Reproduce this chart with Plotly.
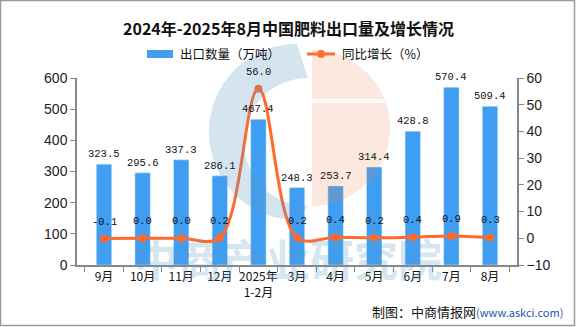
import numpy as np
import plotly.graph_objects as go

categories = ["9月", "10月", "11月", "12月", "2025年<br>1-2月", "3月", "4月", "5月", "6月", "7月", "8月"]
export_volume = [323.5, 295.6, 337.3, 286.1, 467.4, 248.3, 253.7, 314.4, 428.8, 570.4, 509.4]
yoy_growth = [-0.1, 0.0, 0.0, 0.2, 56.0, 0.2, 0.4, 0.2, 0.4, 0.9, 0.3]

W, H = 576, 327
ML, MR, MT, MB = 77, 59, 78, 62
PW, PH = W - ML - MR, H - MT - MB

BAR_C = "#3F9DF2"
LINE_C = "#FF6A2A"

def px2paper(x, y):
    return (x - ML) / PW, (H - MB - y) / PH

fig = go.Figure()
fig.add_trace(go.Bar(x=categories, y=export_volume, marker_color=BAR_C, name="出口数量（万吨）",
                     showlegend=False, hoverinfo="skip"))
fig.add_trace(go.Scatter(x=categories, y=yoy_growth, yaxis="y2", mode="lines+markers",
                         line=dict(color=LINE_C, width=3, shape="spline", smoothing=1.0),
                         marker=dict(size=8, color=LINE_C), name="同比增长（%）",
                         showlegend=False, cliponaxis=False, hoverinfo="skip"))

ann = []
lab_font = dict(family="Liberation Mono, DejaVu Sans Mono, monospace", size=10.5, color="#111")
for c, v in zip(categories, export_volume):
    ann.append(dict(x=c, y=v, xref="x", yref="y", text=f"{v:.1f}", showarrow=False,
                    yanchor="bottom", yshift=2, font=lab_font))
for c, v in zip(categories, yoy_growth):
    ann.append(dict(x=c, y=v, xref="x", yref="y2", text=f"{v:.1f}", showarrow=False,
                    yanchor="middle", yshift=17, font=lab_font))

# title
tx, ty = px2paper(288, 27.5)
ann.append(dict(x=tx, y=ty, xref="paper", yref="paper", text="<b>2024年-2025年8月中国肥料出口量及增长情况</b>",
                showarrow=False, xanchor="center", yanchor="middle",
                font=dict(family="Noto Sans CJK SC", size=16, color="#111")))

# custom legend
shapes = []
x0, y0 = px2paper(147, 50)
x1, y1 = px2paper(173, 58)
shapes.append(dict(type="rect", xref="paper", yref="paper", x0=x0, x1=x1, y0=y0, y1=y1,
                   fillcolor=BAR_C, line=dict(width=0)))
lx, ly = px2paper(178, 54)
ann.append(dict(x=lx, y=ly, xref="paper", yref="paper", text="出口数量（万吨）", showarrow=False,
                xanchor="left", yanchor="middle", font=dict(family="Noto Sans CJK SC", size=12.5, color="#111")))
a0, ay = px2paper(307, 54)
a1, _ = px2paper(335, 54)
shapes.append(dict(type="line", xref="paper", yref="paper", x0=a0, x1=a1, y0=ay, y1=ay,
                   line=dict(color=LINE_C, width=3)))
cx0, cy0 = px2paper(317, 50)
cx1, cy1 = px2paper(325, 58)
shapes.append(dict(type="circle", xref="paper", yref="paper", x0=cx0, x1=cx1, y0=cy0, y1=cy1,
                   fillcolor=LINE_C, line=dict(width=0)))
lx2, _ = px2paper(340, 54)
ann.append(dict(x=lx2, y=ly, xref="paper", yref="paper", text="同比增长（%）", showarrow=False,
                xanchor="left", yanchor="middle", font=dict(family="Noto Sans CJK SC", size=12.5, color="#111")))

# footer
fx, fy = px2paper(565, 311)
ann.append(dict(x=fx, y=fy, xref="paper", yref="paper",
                text="制图：中商情报网<span style='font-size:11px;color:#2457A6'>(www.askci.com)</span>",
                showarrow=False, xanchor="right", yanchor="middle",
                font=dict(family="Noto Sans CJK SC", size=13, color="#111")))

# watermark
def path_from(pts):
    return "M " + " L ".join(f"{px2paper(x, y)[0]:.4f},{px2paper(x, y)[1]:.4f}" for x, y in pts) + " Z"

th = np.linspace(np.pi / 2, 3 * np.pi / 2, 60)
outer = [(297 + 88 * np.cos(t), 132 - 88 * np.sin(t)) for t in th]
inner = [(308 + 64 * np.cos(t), 142 - 64 * np.sin(t)) for t in th[::-1]]
shapes.append(dict(type="path", xref="paper", yref="paper", path=path_from(outer + inner),
                   fillcolor="rgba(91,155,196,0.26)", line=dict(width=0), layer="above"))
th2 = np.linspace(-np.pi / 2, np.pi / 2, 60)
half = [(312, 206)] + [(312 + 78 * np.cos(t), 128 - 78 * np.sin(t)) for t in th2]
shapes.append(dict(type="path", xref="paper", yref="paper", path=path_from(half),
                   fillcolor="rgba(240,140,90,0.2)", line=dict(width=0), layer="above"))
gx0, gy0 = px2paper(310, 99)
gx1, gy1 = px2paper(395, 103)
shapes.append(dict(type="rect", xref="paper", yref="paper", x0=gx0, x1=gx1, y0=gy0, y1=gy1,
                   fillcolor="rgba(255,255,255,0.8)", line=dict(width=0), layer="above"))
wx, wy = px2paper(288, 258)
ann.append(dict(x=wx, y=wy, xref="paper", yref="paper", text="<b>中商产业研究院</b>", showarrow=False,
                xanchor="center", yanchor="middle",
                font=dict(family="Noto Sans CJK SC", size=44, color="rgba(91,155,196,0.26)")))

# border
bx0, by0 = px2paper(0.5, 0.5)
bx1, by1 = px2paper(W - 1.5, H - 1.5)
shapes.append(dict(type="rect", xref="paper", yref="paper", x0=bx0, x1=bx1, y0=by1, y1=by0,
                   line=dict(color="#9A9A9A", width=1.5), fillcolor="rgba(0,0,0,0)", layer="above"))

axis_font = dict(family="Liberation Sans, Arial, sans-serif", size=14, color="#222")
fig.update_layout(
    width=W, height=H, margin=dict(l=ML, r=MR, t=MT, b=MB),
    paper_bgcolor="white", plot_bgcolor="white",
    bargap=0.6,
    xaxis=dict(type="category", showline=True, linecolor="#888", linewidth=1.5, tickangle=0,
               ticks="outside", tickson="boundaries", ticklen=5, tickcolor="#888",
               tickfont=dict(family="Noto Sans CJK SC", size=12, color="#111"), showgrid=False),
    yaxis=dict(range=[0, 600], dtick=100, showline=True, linecolor="#888", linewidth=1.5,
               ticks="outside", ticklen=5, tickcolor="#888", tickfont=axis_font, showgrid=False,
               zeroline=False),
    yaxis2=dict(range=[-10, 60], dtick=10, overlaying="y", side="right", showline=True,
                linecolor="#888", linewidth=1.5, ticks="outside", ticklen=5, tickcolor="#888",
                tickfont=axis_font, showgrid=False, zeroline=False),
    annotations=ann, shapes=shapes, showlegend=False,
)
fig.write_html("out.html")
